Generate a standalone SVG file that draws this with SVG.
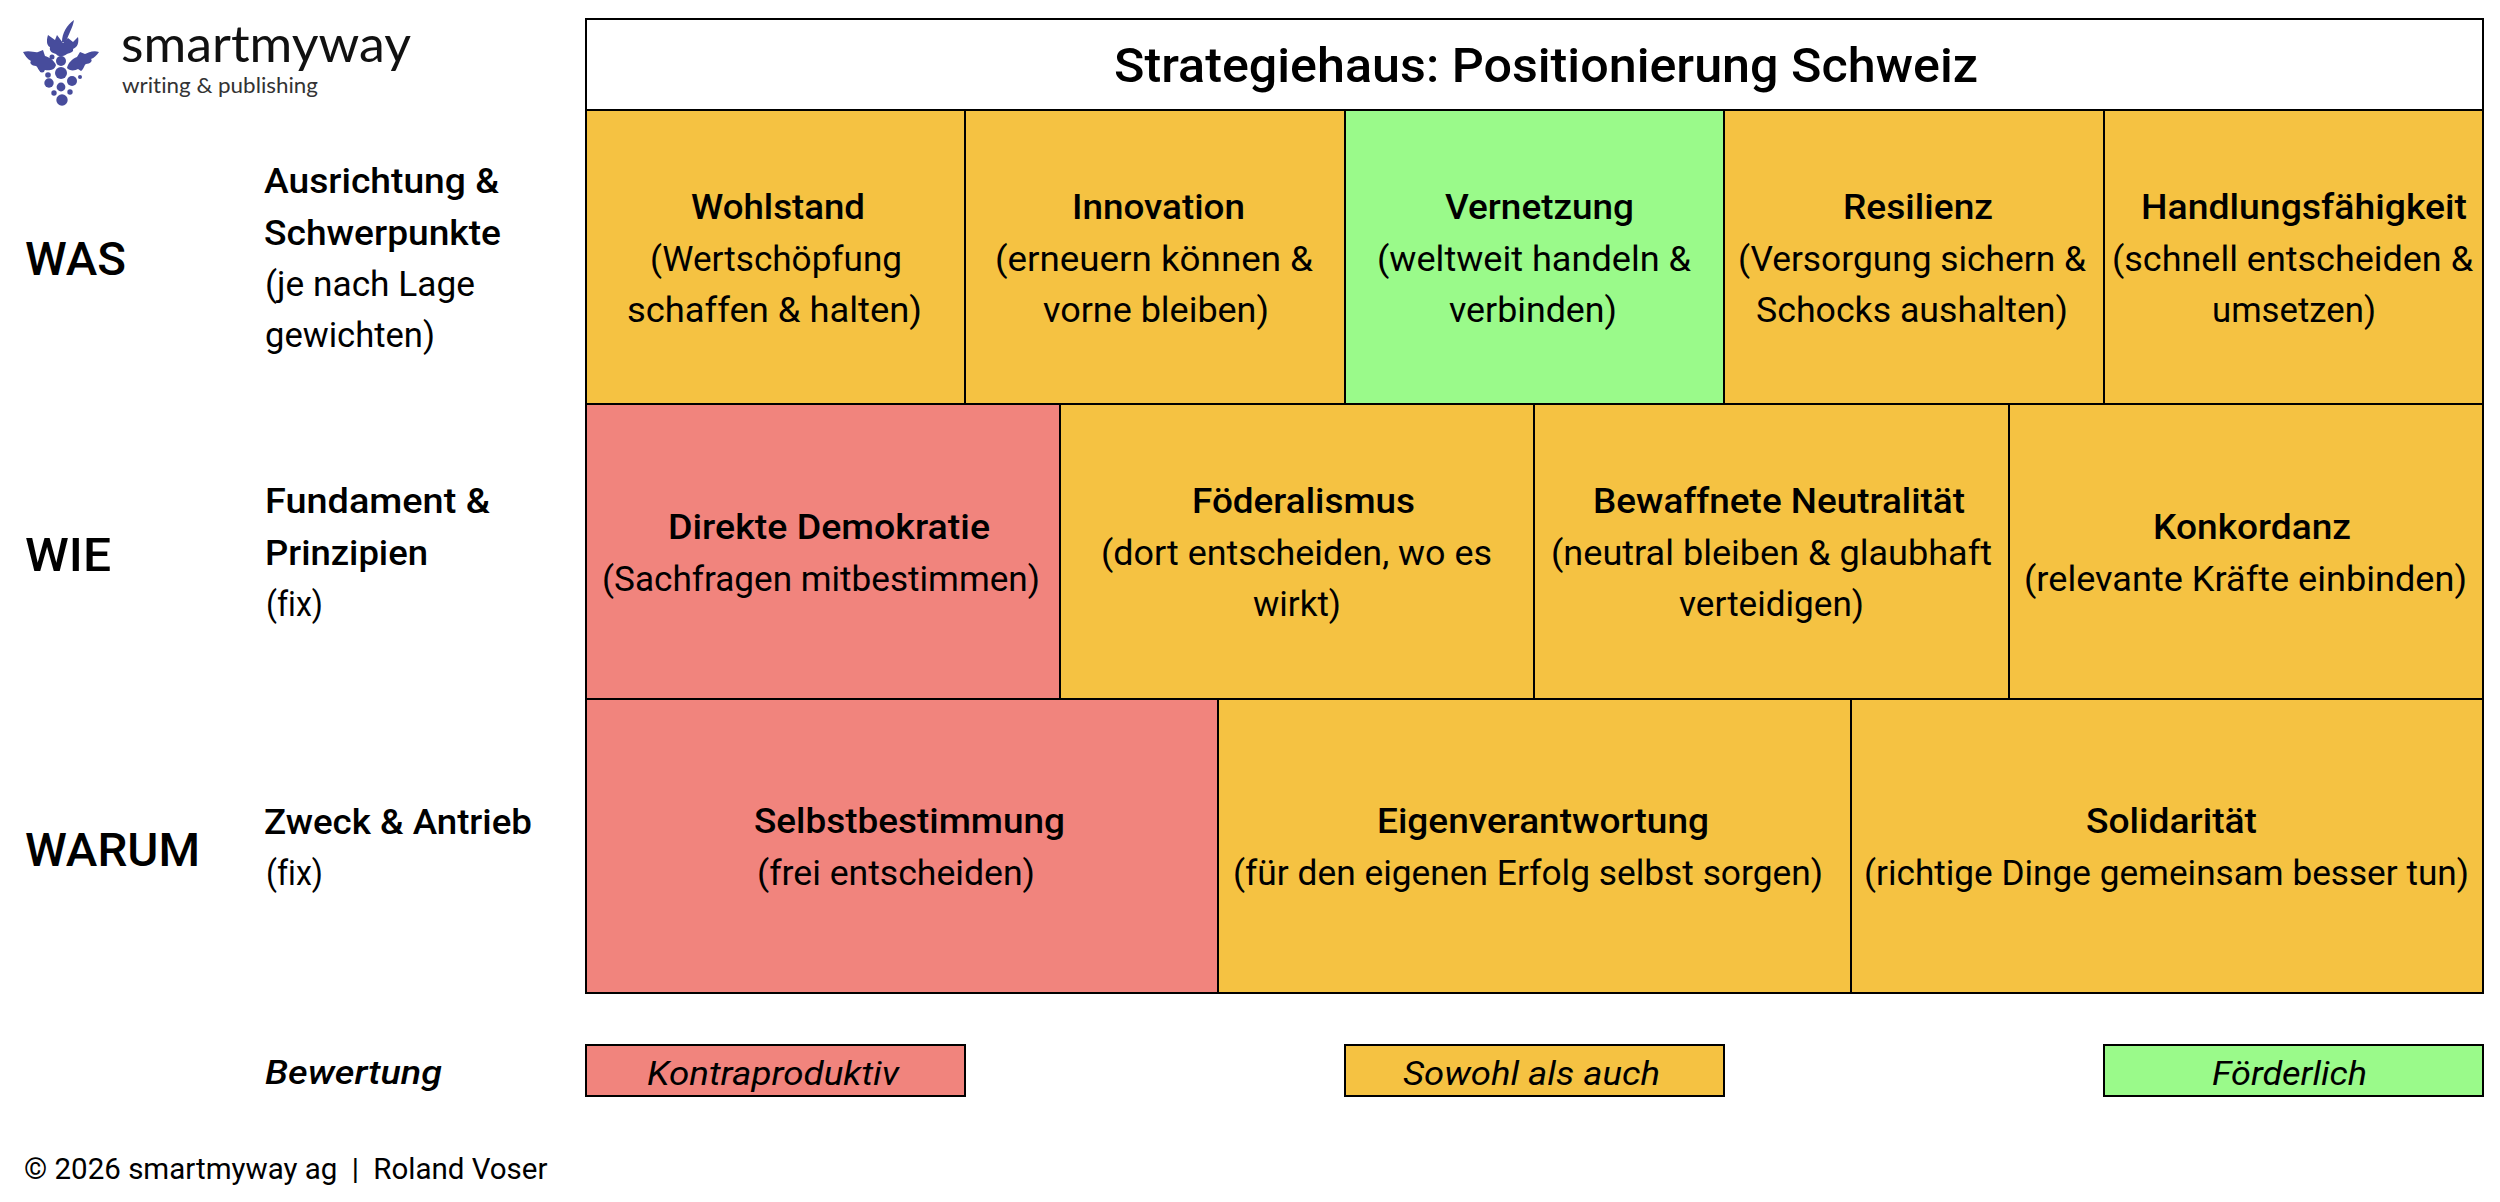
<svg xmlns="http://www.w3.org/2000/svg" width="2500" height="1202" viewBox="0 0 2500 1202">
<style>
text{font-family:"Roboto","Liberation Sans",sans-serif;fill:#000;font-size:35px;font-variant-ligatures:none}
.b{font-weight:500}
.h{font-size:47px;font-weight:500}
.t{font-size:48px;font-weight:500}
.i{font-style:italic;font-size:34px}
.bi{font-style:italic;font-size:34px;font-weight:500}
.o{fill:#f5c242}.r{fill:#f1847d}.g{fill:#9afa8a}.w{fill:#fff}
rect{stroke:#000;stroke-width:2}
.logo{fill:#474c9c}
</style>
<rect width="2500" height="1202" style="fill:#fff;stroke:none"/>
<g id="logo">
<g class="logo">
<circle cx="61" cy="73" r="6"/><circle cx="72" cy="81" r="5"/><circle cx="49" cy="83" r="4.7"/><circle cx="61" cy="87" r="4.4"/>
<circle cx="70" cy="92" r="2.7"/><circle cx="54" cy="93" r="2.7"/><circle cx="62" cy="100" r="5.7"/>
<circle cx="48" cy="75" r="2.8"/><circle cx="80" cy="77" r="2"/><circle cx="52" cy="57" r="2.5"/><circle cx="42" cy="70" r="2.5"/>
<circle cx="61" cy="61" r="5"/>
<path d="M74 20C73 27 69 33 66 42L62 42C62 33 67 25 74 20Z"/>
<path d="M48 35L55 40L57 35L63 43L68 38L73 42L78 37C79 42 78 47 73 49C74 52 70 53 67 54C63 57 58 57 56 54C52 53 49 51 50 47C47 46 46 41 48 35Z"/>
<path d="M23 52C30 50 35 53 38 52L43 50L45 56C49 57 54 60 56 65C55 70 49 71 45 70L42 72C38 71 38 67 36 66C32 66 29 63 31 61C27 59 25 55 23 52Z"/>
<path d="M99 52C93 50 88 53 85 54L80 52L77 57C72 59 68 63 67 68C69 71 75 71 78 69L81 71C84 69 84 65 86 64C90 64 93 61 91 59C94 58 97 55 99 52Z"/>
</g>
<text x="121" y="62" style="font-family:'Lato',sans-serif;font-size:50px;fill:#111" textLength="290" lengthAdjust="spacingAndGlyphs">smartmyway</text>
<text x="122" y="93" style="font-family:'Lato',sans-serif;font-size:22px;fill:#333" textLength="196" lengthAdjust="spacingAndGlyphs">writing &amp; publishing</text>
</g>
<g id="row-labels">
<text class="h" x="25" y="275" textLength="101" lengthAdjust="spacingAndGlyphs">WAS</text>
<text class="b" x="264" y="193" textLength="235" lengthAdjust="spacingAndGlyphs">Ausrichtung &amp;</text>
<text class="b" x="264" y="245" textLength="237" lengthAdjust="spacingAndGlyphs">Schwerpunkte</text>
<text x="265" y="296" textLength="210" lengthAdjust="spacingAndGlyphs">(je nach Lage</text>
<text x="265" y="347" textLength="170" lengthAdjust="spacingAndGlyphs">gewichten)</text>
<text class="h" x="25" y="571" textLength="86" lengthAdjust="spacingAndGlyphs">WIE</text>
<text class="b" x="265" y="513" textLength="225" lengthAdjust="spacingAndGlyphs">Fundament &amp;</text>
<text class="b" x="265" y="565" textLength="163" lengthAdjust="spacingAndGlyphs">Prinzipien</text>
<text x="266" y="616" textLength="57" lengthAdjust="spacingAndGlyphs">(fix)</text>
<text class="h" x="25" y="866" textLength="175" lengthAdjust="spacingAndGlyphs">WARUM</text>
<text class="b" x="264" y="834" textLength="268" lengthAdjust="spacingAndGlyphs">Zweck &amp; Antrieb</text>
<text x="266" y="885" textLength="57" lengthAdjust="spacingAndGlyphs">(fix)</text>
<text class="bi" x="265" y="1084" textLength="177" lengthAdjust="spacingAndGlyphs">Bewertung</text>
<text x="24" y="1179" style="font-size:29.5px">© 2026 smartmyway ag<tspan dx="7"> |</tspan><tspan dx="7"> Roland Voser</tspan></text>
</g>
<g id="title"><rect class="w" x="586" y="19" width="1897" height="91"/>
<text class="t" x="1114" y="82" textLength="864" lengthAdjust="spacingAndGlyphs">Strategiehaus: Positionierung Schweiz</text></g>
<g id="wohlstand"><rect class="o" x="586" y="110" width="379" height="294"/>
<text class="b" x="691" y="219" textLength="174" lengthAdjust="spacingAndGlyphs">Wohlstand</text>
<text x="650" y="271" textLength="252" lengthAdjust="spacingAndGlyphs">(Wertschöpfung</text>
<text x="627" y="322" textLength="295" lengthAdjust="spacingAndGlyphs">schaffen &amp; halten)</text></g>
<g id="innovation"><rect class="o" x="965" y="110" width="380" height="294"/>
<text class="b" x="1072" y="219" textLength="173" lengthAdjust="spacingAndGlyphs">Innovation</text>
<text x="995" y="271" textLength="318" lengthAdjust="spacingAndGlyphs">(erneuern können &amp;</text>
<text x="1043" y="322" textLength="226" lengthAdjust="spacingAndGlyphs">vorne bleiben)</text></g>
<g id="vernetzung"><rect class="g" x="1345" y="110" width="379" height="294"/>
<text class="b" x="1445" y="219" textLength="189" lengthAdjust="spacingAndGlyphs">Vernetzung</text>
<text x="1377" y="271" textLength="314" lengthAdjust="spacingAndGlyphs">(weltweit handeln &amp;</text>
<text x="1449" y="322" textLength="168" lengthAdjust="spacingAndGlyphs">verbinden)</text></g>
<g id="resilienz"><rect class="o" x="1724" y="110" width="380" height="294"/>
<text class="b" x="1843" y="219" textLength="150" lengthAdjust="spacingAndGlyphs">Resilienz</text>
<text x="1738" y="271" textLength="348" lengthAdjust="spacingAndGlyphs">(Versorgung sichern &amp;</text>
<text x="1756" y="322" textLength="312" lengthAdjust="spacingAndGlyphs">Schocks aushalten)</text></g>
<g id="handlungsfaehigkeit"><rect class="o" x="2104" y="110" width="379" height="294"/>
<text class="b" x="2141" y="219" textLength="326" lengthAdjust="spacingAndGlyphs">Handlungsfähigkeit</text>
<text x="2112" y="271" textLength="361" lengthAdjust="spacingAndGlyphs">(schnell entscheiden &amp;</text>
<text x="2212" y="322" textLength="164" lengthAdjust="spacingAndGlyphs">umsetzen)</text></g>
<g id="direkte-demokratie"><rect class="r" x="586" y="404" width="474" height="295"/>
<text class="b" x="668" y="539" textLength="322" lengthAdjust="spacingAndGlyphs">Direkte Demokratie</text>
<text x="602" y="591" textLength="438" lengthAdjust="spacingAndGlyphs">(Sachfragen mitbestimmen)</text></g>
<g id="foederalismus"><rect class="o" x="1060" y="404" width="474" height="295"/>
<text class="b" x="1192" y="513" textLength="223" lengthAdjust="spacingAndGlyphs">Föderalismus</text>
<text x="1101" y="565" textLength="391" lengthAdjust="spacingAndGlyphs">(dort entscheiden, wo es</text>
<text x="1253" y="616" textLength="88" lengthAdjust="spacingAndGlyphs">wirkt)</text></g>
<g id="bewaffnete-neutralitaet"><rect class="o" x="1534" y="404" width="475" height="295"/>
<text class="b" x="1593" y="513" textLength="372" lengthAdjust="spacingAndGlyphs">Bewaffnete Neutralität</text>
<text x="1551" y="565" textLength="441" lengthAdjust="spacingAndGlyphs">(neutral bleiben &amp; glaubhaft</text>
<text x="1679" y="616" textLength="185" lengthAdjust="spacingAndGlyphs">verteidigen)</text></g>
<g id="konkordanz"><rect class="o" x="2009" y="404" width="474" height="295"/>
<text class="b" x="2153" y="539" textLength="198" lengthAdjust="spacingAndGlyphs">Konkordanz</text>
<text x="2024" y="591" textLength="443" lengthAdjust="spacingAndGlyphs">(relevante Kräfte einbinden)</text></g>
<g id="selbstbestimmung"><rect class="r" x="586" y="699" width="632" height="294"/>
<text class="b" x="754" y="833" textLength="311" lengthAdjust="spacingAndGlyphs">Selbstbestimmung</text>
<text x="757" y="885" textLength="278" lengthAdjust="spacingAndGlyphs">(frei entscheiden)</text></g>
<g id="eigenverantwortung"><rect class="o" x="1218" y="699" width="633" height="294"/>
<text class="b" x="1377" y="833" textLength="332" lengthAdjust="spacingAndGlyphs">Eigenverantwortung</text>
<text x="1233" y="885" textLength="590" lengthAdjust="spacingAndGlyphs">(für den eigenen Erfolg selbst sorgen)</text></g>
<g id="solidaritaet"><rect class="o" x="1851" y="699" width="632" height="294"/>
<text class="b" x="2086" y="833" textLength="171" lengthAdjust="spacingAndGlyphs">Solidarität</text>
<text x="1864" y="885" textLength="605" lengthAdjust="spacingAndGlyphs">(richtige Dinge gemeinsam besser tun)</text></g>
<g id="legend-kontraproduktiv"><rect class="r" x="586" y="1045" width="379" height="51"/>
<text class="i" x="647" y="1085" textLength="252" lengthAdjust="spacingAndGlyphs">Kontraproduktiv</text></g>
<g id="legend-sowohl"><rect class="o" x="1345" y="1045" width="379" height="51"/>
<text class="i" x="1403" y="1085" textLength="257" lengthAdjust="spacingAndGlyphs">Sowohl als auch</text></g>
<g id="legend-foerderlich"><rect class="g" x="2104" y="1045" width="379" height="51"/>
<text class="i" x="2212" y="1085" textLength="155" lengthAdjust="spacingAndGlyphs">Förderlich</text></g>
</svg>
